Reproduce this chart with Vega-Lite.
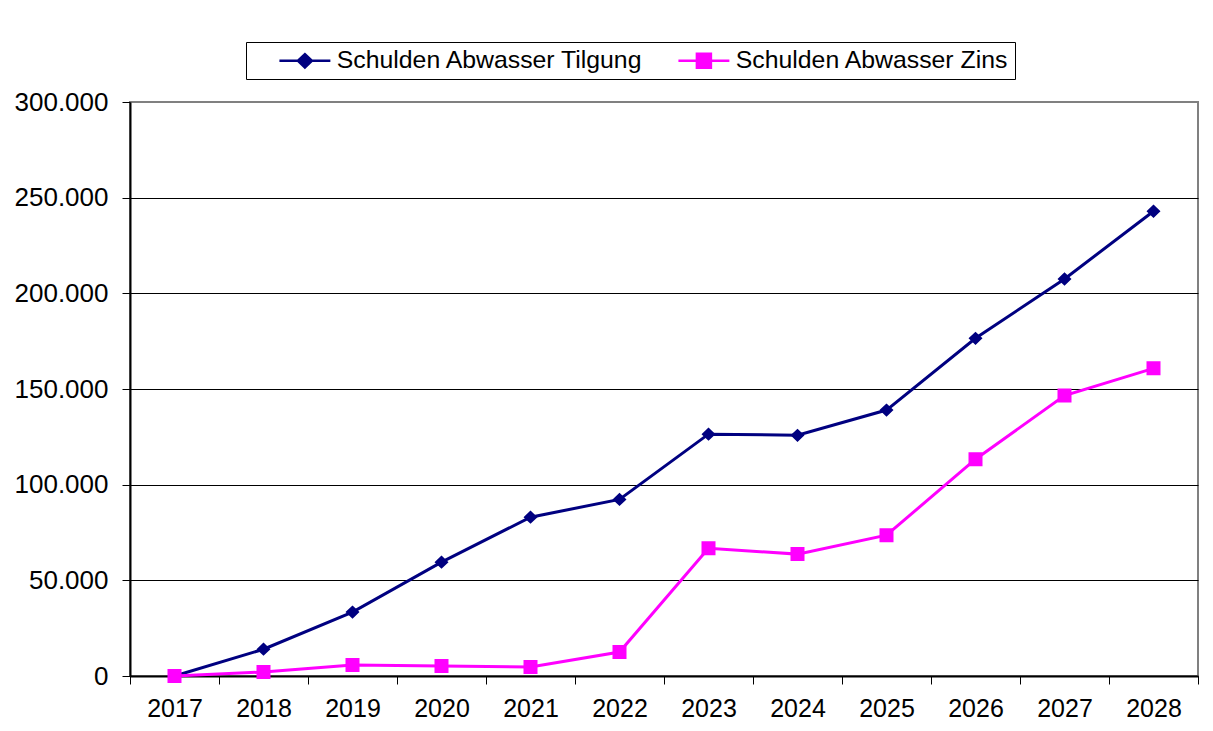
{
  "$schema": "https://vega.github.io/schema/vega-lite/v6.json",
  "width": 1068,
  "height": 574,
  "autosize": {"type": "none"},
  "padding": {"left": 130, "top": 102, "right": 15, "bottom": 55},
  "background": "white",
  "config": {
    "font": "Liberation Sans",
    "view": {"stroke": "#808080", "strokeWidth": 2},
    "legend": {
      "orient": "none",
      "legendX": 116,
      "legendY": -60,
      "direction": "horizontal",
      "strokeColor": "black",
      "fillColor": "white",
      "padding": 6,
      "labelFontSize": 24.8,
      "labelColor": "black",
      "labelLimit": 0,
      "symbolSize": 196,
      "symbolOffset": 40.5,
      "symbolStrokeWidth": 2.5,
      "symbolOpacity": 1,
      "labelOffset": 19.5,
      "columnPadding": 7
    }
  },
  "data": {
    "values": [
      {"Jahr": "2017", "Serie": "Schulden Abwasser Tilgung", "Wert": 0},
      {"Jahr": "2018", "Serie": "Schulden Abwasser Tilgung", "Wert": 14000},
      {"Jahr": "2019", "Serie": "Schulden Abwasser Tilgung", "Wert": 33400},
      {"Jahr": "2020", "Serie": "Schulden Abwasser Tilgung", "Wert": 59500},
      {"Jahr": "2021", "Serie": "Schulden Abwasser Tilgung", "Wert": 83000},
      {"Jahr": "2022", "Serie": "Schulden Abwasser Tilgung", "Wert": 92300},
      {"Jahr": "2023", "Serie": "Schulden Abwasser Tilgung", "Wert": 126400},
      {"Jahr": "2024", "Serie": "Schulden Abwasser Tilgung", "Wert": 125800},
      {"Jahr": "2025", "Serie": "Schulden Abwasser Tilgung", "Wert": 139000},
      {"Jahr": "2026", "Serie": "Schulden Abwasser Tilgung", "Wert": 176500},
      {"Jahr": "2027", "Serie": "Schulden Abwasser Tilgung", "Wert": 207500},
      {"Jahr": "2028", "Serie": "Schulden Abwasser Tilgung", "Wert": 242900},
      {"Jahr": "2017", "Serie": "Schulden Abwasser Zins", "Wert": 0},
      {"Jahr": "2018", "Serie": "Schulden Abwasser Zins", "Wert": 2100},
      {"Jahr": "2019", "Serie": "Schulden Abwasser Zins", "Wert": 5700},
      {"Jahr": "2020", "Serie": "Schulden Abwasser Zins", "Wert": 5200},
      {"Jahr": "2021", "Serie": "Schulden Abwasser Zins", "Wert": 4700},
      {"Jahr": "2022", "Serie": "Schulden Abwasser Zins", "Wert": 12500},
      {"Jahr": "2023", "Serie": "Schulden Abwasser Zins", "Wert": 66800},
      {"Jahr": "2024", "Serie": "Schulden Abwasser Zins", "Wert": 63700},
      {"Jahr": "2025", "Serie": "Schulden Abwasser Zins", "Wert": 73600},
      {"Jahr": "2026", "Serie": "Schulden Abwasser Zins", "Wert": 113300},
      {"Jahr": "2027", "Serie": "Schulden Abwasser Zins", "Wert": 146600},
      {"Jahr": "2028", "Serie": "Schulden Abwasser Zins", "Wert": 160800}
    ]
  },
  "encoding": {
    "x": {
      "field": "Jahr",
      "type": "ordinal",
      "scale": {"paddingInner": 0, "paddingOuter": 0},
      "axis": {
        "title": null,
        "labelAngle": 0,
        "labelFontSize": 25,
        "labelColor": "black",
        "labelPadding": 12,
        "tickBand": "extent",
        "tickSize": 8,
        "tickColor": "black",
        "tickWidth": 1,
        "domainColor": "black",
        "domainWidth": 2,
        "grid": false
      }
    },
    "y": {
      "field": "Wert",
      "type": "quantitative",
      "scale": {"domain": [0, 300000], "nice": false},
      "axis": {
        "title": null,
        "values": [0, 50000, 100000, 150000, 200000, 250000, 300000],
        "labelExpr": "replace(format(datum.value, ','), ',', '.')",
        "labelFontSize": 26,
        "labelColor": "black",
        "labelPadding": 14,
        "tickSize": 8,
        "tickColor": "black",
        "tickWidth": 1,
        "domainColor": "black",
        "domainWidth": 2,
        "grid": true,
        "gridColor": {"condition": {"test": "datum.value >= 300000", "value": "#808080"}, "value": "black"},
        "gridOpacity": 1
      }
    }
  },
  "layer": [
    {
      "mark": {"type": "line", "strokeWidth": 3},
      "encoding": {
        "stroke": {
          "field": "Serie",
          "type": "nominal",
          "title": null,
          "scale": {
            "domain": ["Schulden Abwasser Tilgung", "Schulden Abwasser Zins"],
            "range": ["#000080", "#FF00FF"]
          },
          "legend": {"title": null}
        }
      }
    },
    {
      "mark": {"type": "point", "filled": true, "size": 196, "opacity": 1},
      "encoding": {
        "fill": {
          "field": "Serie",
          "type": "nominal",
          "title": null,
          "scale": {
            "domain": ["Schulden Abwasser Tilgung", "Schulden Abwasser Zins"],
            "range": ["#000080", "#FF00FF"]
          },
          "legend": {"title": null}
        },
        "shape": {
          "field": "Serie",
          "type": "nominal",
          "title": null,
          "scale": {
            "domain": ["Schulden Abwasser Tilgung", "Schulden Abwasser Zins"],
            "range": ["M-3.64,0L3.64,0M0,-0.95L1,0L0,0.95L-1,0Z", "M-3.64,0L3.64,0M-1,-1L1,-1L1,1L-1,1Z"]
          },
          "legend": {"title": null}
        }
      }
    }
  ]
}
